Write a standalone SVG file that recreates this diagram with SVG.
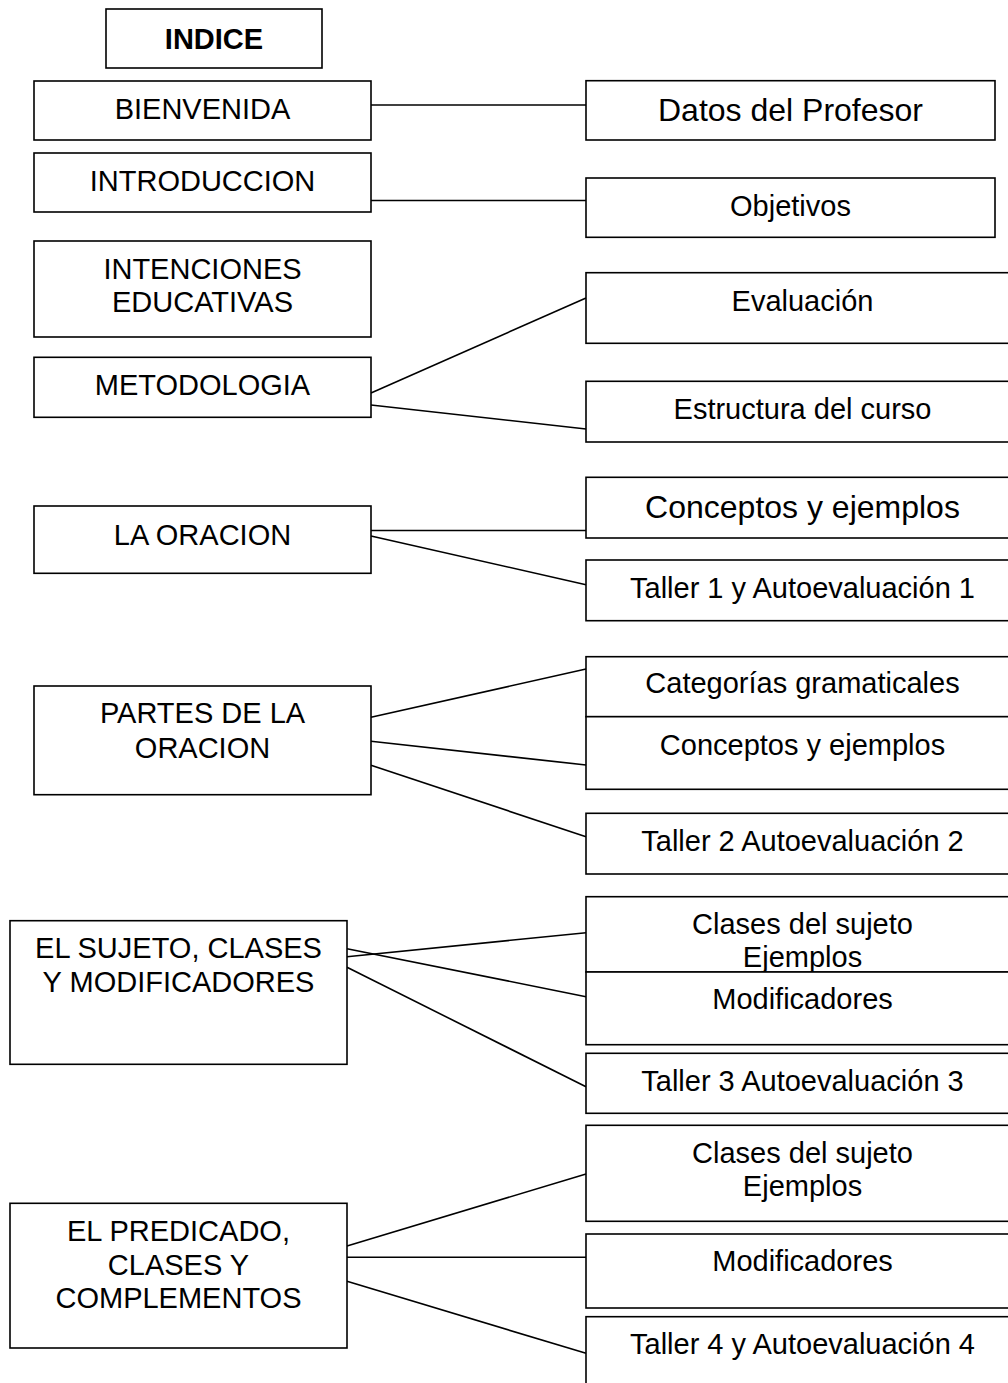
<svg xmlns="http://www.w3.org/2000/svg" width="1008" height="1383" viewBox="0 0 1008 1383">
<style>
rect { fill: #fff; stroke: #000; stroke-width: 1.6; }
text { font-family: "Liberation Sans", Arial, sans-serif; font-size: 29px; fill: #000; text-anchor: middle; }
.big { font-size: 32px; }
.bold { font-weight: bold; }
#connectors line { stroke: #000; stroke-width: 1.6; }
</style>
<rect x="0" y="0" width="1008" height="1383" style="fill:#fff;stroke:none"/>
<g id="connectors">
  <line x1="371" y1="105" x2="586" y2="105"/>
  <line x1="371" y1="200.5" x2="586" y2="200.5"/>
  <line x1="371" y1="393" x2="586" y2="298"/>
  <line x1="371" y1="405" x2="586" y2="429"/>
  <line x1="371" y1="530.5" x2="586" y2="530.5"/>
  <line x1="371" y1="536" x2="586" y2="584.7"/>
  <line x1="371" y1="717.3" x2="586" y2="669"/>
  <line x1="371" y1="741.3" x2="586" y2="765"/>
  <line x1="371" y1="765.3" x2="586" y2="836.7"/>
  <line x1="347" y1="956.7" x2="586" y2="932.7"/>
  <line x1="347" y1="948.7" x2="586" y2="996.7"/>
  <line x1="347" y1="967.3" x2="586" y2="1086.7"/>
  <line x1="347" y1="1246" x2="586" y2="1174"/>
  <line x1="347" y1="1257.3" x2="586" y2="1257.3"/>
  <line x1="347" y1="1281.3" x2="586" y2="1353.3"/>
</g>
<g id="indice"><rect x="106" y="9" width="216" height="59"/><text class="bold" x="214" y="48.7">INDICE</text></g>
<g id="bienvenida"><rect x="34" y="81" width="337" height="59"/><text x="202.5" y="119.3">BIENVENIDA</text></g>
<g id="introduccion"><rect x="34" y="153" width="337" height="59"/><text x="202.5" y="191.3">INTRODUCCION</text></g>
<g id="intenciones"><rect x="34" y="241" width="337" height="96"/><text x="202.5" y="278.7">INTENCIONES</text><text x="202.5" y="312">EDUCATIVAS</text></g>
<g id="metodologia"><rect x="34" y="357.3" width="337" height="60"/><text x="202.5" y="395.3">METODOLOGIA</text></g>
<g id="la-oracion"><rect x="34" y="506" width="337" height="67.3"/><text x="202.5" y="545.3">LA ORACION</text></g>
<g id="partes"><rect x="34" y="686" width="337" height="108.7"/><text x="202.5" y="723.3">PARTES DE LA</text><text x="202.5" y="758">ORACION</text></g>
<g id="sujeto"><rect x="10" y="920.7" width="337" height="143.6"/><text x="178.5" y="958.3">EL SUJETO, CLASES</text><text x="178.5" y="991.7">Y MODIFICADORES</text></g>
<g id="predicado"><rect x="10" y="1203.3" width="337" height="144.7"/><text x="178.5" y="1241.3">EL PREDICADO,</text><text x="178.5" y="1274.7">CLASES Y</text><text x="178.5" y="1308">COMPLEMENTOS</text></g>
<g id="datos"><rect x="586" y="80.7" width="409" height="59.3"/><text class="big" x="790.5" y="120.7">Datos del Profesor</text></g>
<g id="objetivos"><rect x="586" y="178" width="409" height="59.3"/><text x="790.5" y="215.5">Objetivos</text></g>
<g id="evaluacion"><rect x="586" y="272.7" width="434" height="70.6"/><text x="802.5" y="310.7">Evaluación</text></g>
<g id="estructura"><rect x="586" y="381.3" width="434" height="60.7"/><text x="802.5" y="419.3">Estructura del curso</text></g>
<g id="conceptos1"><rect x="586" y="477.3" width="434" height="60.7"/><text class="big" x="802.5" y="518">Conceptos y ejemplos</text></g>
<g id="taller1"><rect x="586" y="560" width="434" height="60.7"/><text x="802.5" y="598">Taller 1 y Autoevaluación 1</text></g>
<g id="categorias"><rect x="586" y="656.7" width="434" height="60"/><text x="802.5" y="692.7">Categorías gramaticales</text></g>
<g id="conceptos2"><rect x="586" y="716.7" width="434" height="72.6"/><text x="802.5" y="754.7">Conceptos y ejemplos</text></g>
<g id="taller2"><rect x="586" y="813.3" width="434" height="60.7"/><text x="802.5" y="850.7">Taller 2 Autoevaluación 2</text></g>
<g id="clases1"><rect x="586" y="896.7" width="434" height="75.3"/><text x="802.5" y="934">Clases del sujeto</text><text x="802.5" y="967.3">Ejemplos</text></g>
<g id="modificadores1"><rect x="586" y="972" width="434" height="72.7"/><text x="802.5" y="1009.3">Modificadores</text></g>
<g id="taller3"><rect x="586" y="1053.3" width="434" height="60"/><text x="802.5" y="1090.7">Taller 3 Autoevaluación 3</text></g>
<g id="clases2"><rect x="586" y="1125.3" width="434" height="96"/><text x="802.5" y="1162.7">Clases del sujeto</text><text x="802.5" y="1196">Ejemplos</text></g>
<g id="modificadores2"><rect x="586" y="1234" width="434" height="74"/><text x="802.5" y="1270.7">Modificadores</text></g>
<g id="taller4"><rect x="586" y="1316.7" width="434" height="90"/><text x="802.5" y="1354">Taller 4 y Autoevaluación 4</text></g>
</svg>
